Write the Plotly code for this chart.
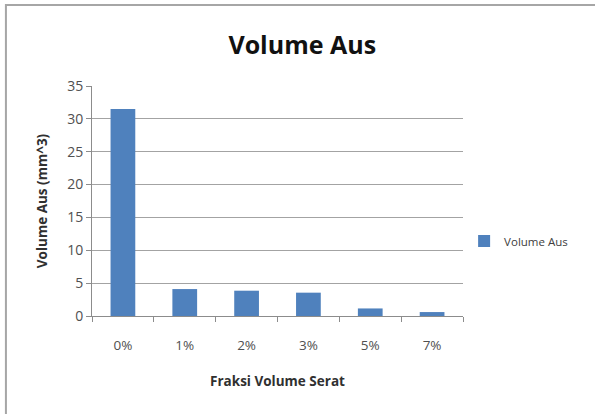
import plotly.graph_objects as go

categories = ["0%", "1%", "2%", "3%", "5%", "7%"]
volume_aus = [31.5, 4.1, 3.85, 3.55, 1.15, 0.6]
series_name = "Volume Aus"

FONT = "Open Sans"
fig = go.Figure()
fig.add_trace(go.Bar(x=categories, y=volume_aus, name=series_name,
                     marker=dict(color="#4F81BD", line=dict(width=0))))

fig.update_layout(
    width=595, height=414,
    margin=dict(l=92, r=132, t=86, b=98),
    paper_bgcolor="white", plot_bgcolor="white",
    font=dict(family=FONT, color="#404040", size=13),
    bargap=0.6,
    showlegend=True,
    legend=dict(x=1.003, y=0.326, xanchor="left", yanchor="middle",
                font=dict(size=11.5, color="#404040"), bgcolor="rgba(0,0,0,0)",
                itemwidth=30, tracegroupgap=0),
    title=dict(text="<b>Volume Aus</b>", x=0.508, xref="container", xanchor="center",
               y=0.89, yref="container", yanchor="middle",
               font=dict(size=25, color="#111111", family=FONT)),
    xaxis=dict(showgrid=False, showline=True, linecolor="#8c8c8c", linewidth=1,
               ticks="outside", tickson="boundaries", ticklen=5, tickcolor="#8c8c8c",
               ticklabelstandoff=17, tickfont=dict(size=13.5, color="#505050"),
               title=dict(text="<b>Fraksi Volume Serat</b>", standoff=23,
                          font=dict(size=13.5, color="#303030"))),
    yaxis=dict(range=[0, 35], dtick=5, showgrid=True, gridcolor="#a3a3a3", gridwidth=1,
               showline=True, linecolor="#8c8c8c", linewidth=1, zeroline=False,
               ticks="outside", ticklen=5, tickcolor="#8c8c8c",
               tickfont=dict(size=14, color="#505050"),
               title=dict(text="<b>Volume Aus (mm^3)</b>", standoff=16,
                          font=dict(size=13.5, color="#303030"))),
)

fig.add_shape(type="rect", xref="paper", yref="paper",
              x0=-0.232, x1=2.5, y0=-1.6, y1=1.352,
              line=dict(color="#a6a6a6", width=2), fillcolor="rgba(0,0,0,0)", layer="below")

fig.write_html("out.html", config={"displayModeBar": False},
               post_script="document.body.style.margin='0px';document.body.style.padding='0px';")
